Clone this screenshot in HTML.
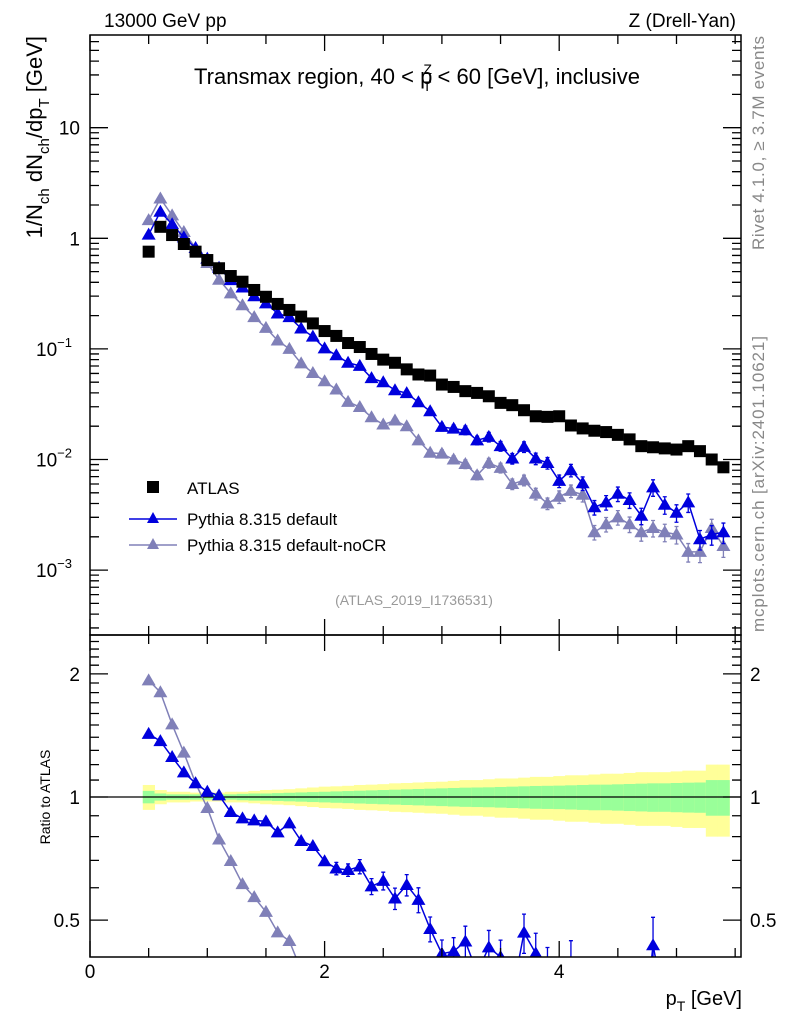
<!DOCTYPE html>
<html><head><meta charset="utf-8"><style>
html,body{margin:0;background:#fff;overflow:hidden;width:786px;height:1024px}
svg{display:block;font-family:"Liberation Sans",sans-serif}
</style></head><body>
<svg id="c" width="786" height="1024" viewBox="0 0 786 1024" xmlns="http://www.w3.org/2000/svg">
<text x="104" y="27" font-size="19">13000 GeV pp</text>
<text x="736" y="27" font-size="19" text-anchor="end">Z (Drell-Yan)</text>
<text x="417" y="84" font-size="22" text-anchor="middle">Transmax region, 40 &lt; p<tspan font-size="14" dy="-10" dx="-9">Z</tspan><tspan font-size="14" dy="17" dx="-9">T</tspan><tspan dy="-7"> &lt; 60 [GeV], inclusive</tspan></text>
<text transform="translate(42,36) rotate(-90)" font-size="22" text-anchor="end">1/N<tspan font-size="15" dy="7">ch</tspan><tspan dy="-7"> dN</tspan><tspan font-size="15" dy="7">ch</tspan><tspan dy="-7">/dp</tspan><tspan font-size="15" dy="7">T</tspan><tspan dy="-7"> [GeV]</tspan></text>
<text transform="translate(764,36) rotate(-90)" font-size="17" fill="#888" text-anchor="end" textLength="214">Rivet 4.1.0, ≥ 3.7M events</text>
<text transform="translate(764,632) rotate(-90)" font-size="17" fill="#888" textLength="296">mcplots.cern.ch [arXiv:2401.10621]</text>
<text x="414" y="605" font-size="14" fill="#999" text-anchor="middle">(ATLAS_2019_I1736531)</text>
<text transform="translate(50,797) rotate(-90)" font-size="14" text-anchor="middle">Ratio to ATLAS</text>
<text x="742" y="1005" font-size="20" text-anchor="end">p<tspan font-size="14" dy="6">T</tspan><tspan dy="-6"> [GeV]</tspan></text>
<g>
<rect x="147" y="481" width="12" height="12" fill="#000"/>
<text x="187" y="494" font-size="17">ATLAS</text>
<line x1="129" y1="519" x2="177" y2="519" stroke="#0000dd" stroke-width="1.5"/>
<path d="M153 512 L159 523 L147 523Z" fill="#0000dd"/>
<text x="187" y="525" font-size="17">Pythia 8.315 default</text>
<line x1="129" y1="545" x2="177" y2="545" stroke="#8080b8" stroke-width="1.5"/>
<path d="M153 538 L159 549 L147 549Z" fill="#8080b8"/>
<text x="187" y="551" font-size="17">Pythia 8.315 default-noCR</text>
</g>
<g id="g"></g>
</svg>
<script>
const xs=[0.5,0.6,0.7,0.8,0.9,1.0,1.1,1.2,1.3,1.4,1.5,1.6,1.7,1.8,1.9,2.0,2.1,2.2,2.3,2.4,2.5,2.6,2.7,2.8,2.9,3.0,3.1,3.2,3.3,3.4,3.5,3.6,3.7,3.8,3.9,4.0,4.1,4.2,4.3,4.4,4.5,4.6,4.7,4.8,4.9,5.0,5.1,5.2,5.3,5.4];
const atlas=[0.757,1.27,1.07,0.888,0.757,0.636,0.536,0.456,0.405,0.341,0.296,0.255,0.225,0.196,0.170,0.145,0.131,0.113,0.104,0.090,0.080,0.0749,0.0653,0.0587,0.0574,0.0476,0.0453,0.0415,0.0400,0.0373,0.0325,0.0310,0.0279,0.0246,0.0243,0.0246,0.0203,0.0191,0.0182,0.0177,0.0167,0.0152,0.0132,0.0129,0.0126,0.0123,0.0132,0.0119,0.0100,0.0085];
const pyDef=[1.08,1.74,1.34,1.02,0.818,0.655,0.541,0.419,0.359,0.299,0.258,0.209,0.194,0.153,0.129,0.101,0.0876,0.0749,0.0703,0.0544,0.0499,0.0423,0.0398,0.0329,0.0273,0.0197,0.019,0.0184,0.0149,0.016,0.0132,0.0102,0.013,0.0102,0.0093,0.0064,0.0080,0.0061,0.0037,0.0041,0.0049,0.0043,0.0031,0.0056,0.0039,0.0033,0.0041,0.0019,0.0021,0.0022];
const pyNoCR=[1.46,2.29,1.61,1.14,0.818,0.598,0.422,0.318,0.248,0.194,0.155,0.119,0.100,0.0739,0.0606,0.0510,0.0429,0.0332,0.0298,0.0241,0.0207,0.0225,0.0200,0.0149,0.0115,0.0113,0.0100,0.0091,0.0072,0.0093,0.0084,0.0060,0.0065,0.0049,0.0040,0.0046,0.0052,0.0048,0.0022,0.0026,0.0030,0.0026,0.0022,0.0024,0.0022,0.0021,0.00146,0.00146,0.0024,0.00165];
const mcRelErr=[0.01,0.01,0.01,0.01,0.01,0.01,0.01,0.01,0.01,0.01,0.015,0.02,0.02,0.025,0.025,0.03,0.035,0.035,0.04,0.045,0.05,0.06,0.06,0.07,0.07,0.08,0.08,0.09,0.09,0.1,0.1,0.11,0.11,0.12,0.12,0.13,0.13,0.14,0.15,0.15,0.15,0.16,0.17,0.17,0.18,0.18,0.19,0.2,0.2,0.21];
const statBand=[0.035,0.02,0.015,0.015,0.015,0.015,0.015,0.015,0.018,0.02,0.02,0.022,0.024,0.026,0.028,0.03,0.032,0.034,0.036,0.038,0.04,0.042,0.044,0.046,0.048,0.05,0.052,0.054,0.055,0.056,0.058,0.06,0.062,0.064,0.065,0.066,0.068,0.07,0.072,0.072,0.074,0.076,0.078,0.08,0.08,0.082,0.084,0.085,0.1,0.1];
const totBand=[0.07,0.04,0.03,0.03,0.025,0.025,0.025,0.03,0.03,0.035,0.04,0.042,0.045,0.05,0.055,0.06,0.062,0.065,0.07,0.072,0.075,0.08,0.082,0.085,0.088,0.09,0.095,0.1,0.1,0.105,0.11,0.11,0.115,0.12,0.12,0.125,0.13,0.13,0.135,0.14,0.14,0.145,0.15,0.15,0.15,0.155,0.16,0.16,0.2,0.2];
const xTicks=[0,2,4];
const yDecades=[-3,-2,-1,0,1];
const ratioTicks=["0.5","1","2"];

const L=90,R=741,T=35,MB=635,RB=957;
const X=v=>L+v*117.3;
const Y=v=>127.7+(1-Math.log10(v))*110.6;
const YR=v=>797-Math.log10(v)*409;
const NS='http://www.w3.org/2000/svg';
const g=document.getElementById('g');
function mk(t,a,p){const e=document.createElementNS(NS,t);for(const k in a)e.setAttribute(k,a[k]);(p||g).appendChild(e);return e;}

const defs=mk('defs',{});
const c1=mk('clipPath',{id:'cm'},defs);mk('rect',{x:L,y:T,width:R-L,height:MB-T},c1);
const c2=mk('clipPath',{id:'cr'},defs);mk('rect',{x:L,y:MB,width:R-L,height:RB-MB},c2);

const bandG=mk('g',{'clip-path':'url(#cr)'});
xs.forEach((x,i)=>{
  const a=X(x-0.05),b=X(x+0.05);
  const r1=mk('rect',{x:a,y:YR(1+totBand[i]),width:b-a+0.5,height:YR(1-totBand[i])-YR(1+totBand[i]),fill:'#ffff99'},bandG);
  
  
  const r2=mk('rect',{x:a,y:YR(1+statBand[i]),width:b-a+0.5,height:YR(1-statBand[i])-YR(1+statBand[i]),fill:'#99ff99'},bandG);
  
  
});
const ref=mk('line',{x1:L,x2:R,y1:YR(1),y2:YR(1),stroke:'#000','stroke-width':1.2});



function series(vals,color,name,yf,clip,ratio){
  const sg=mk('g',{'clip-path':clip});
  
  
  const v=vals.map((d,i)=>ratio?d/atlas[i]:d);
  mk('polyline',{points:v.map((d,i)=>X(xs[i])+','+yf(d)).join(' '),fill:'none',stroke:color,'stroke-width':1.5},sg);
  v.forEach((d,i)=>{
    const x=X(xs[i]),y=yf(d),e=mcRelErr[i];
    if(e>0.03){const y1=yf(d*(1+e)),y2=yf(d*(1-e));
      mk('path',{d:`M${x} ${y1}V${y2}M${x-2} ${y1}H${x+2}M${x-2} ${y2}H${x+2}`,stroke:color,'stroke-width':1.3,fill:'none'},sg);}
    const p=mk('path',{d:`M${x} ${y-7}L${x+7} ${y+5}L${x-7} ${y+5}Z`,fill:color},sg);
    
    
  });
}
series(pyNoCR,'#8080b8','pythia-nocr',Y,'url(#cm)',false);
series(pyDef,'#0000dd','pythia-default',Y,'url(#cm)',false);
series(pyNoCR,'#8080b8','ratio-nocr',YR,'url(#cr)',true);
series(pyDef,'#0000dd','ratio-default',YR,'url(#cr)',true);
atlas.forEach((d,i)=>{
  const r=mk('rect',{x:X(xs[i])-6,y:Y(d)-6,width:12,height:12,fill:'#000'});
  
  
});

const f1=mk('rect',{x:L,y:T,width:R-L,height:MB-T,fill:'none',stroke:'#000','stroke-width':1.5});

const f2=mk('rect',{x:L,y:MB,width:R-L,height:RB-MB,fill:'none',stroke:'#000','stroke-width':1.5});


let tk='';
for(let v=0;v<=5.5;v+=0.5){const x=X(v),big=Math.abs(v-Math.round(v/2)*2)<1e-6?1:0,len=big?16:9;
  tk+=`M${x} ${T}v${len}M${x} ${MB}v${-len}M${x} ${MB}v${len}M${x} ${RB}v${-len}`;}
for(let d=-4;d<=1;d++){for(let m=1;m<10;m++){const v=m*Math.pow(10,d),y=Y(v);if(y<T||y>MB)continue;const len=m==1?18:9;
  tk+=`M${L} ${y}h${len}M${R} ${y}h${-len}`;}}
[0.4,0.5,0.6,0.7,0.8,0.9,1,1.1,1.2,1.3,1.4,1.5,1.6,1.7,1.8,1.9,2,2.1,2.2,2.3,2.4].forEach(v=>{const y=YR(v);if(y<MB||y>RB)return;const len=(v==0.5||v==1||v==2)?18:9;
  tk+=`M${L} ${y}h${len}M${R} ${y}h${-len}`;});
const tp=mk('path',{d:tk,stroke:'#000','stroke-width':1.3,fill:'none'});


xTicks.forEach(v=>{const t=mk('text',{x:X(v),y:978,'font-size':19,'text-anchor':'middle'});t.textContent=v;
  });
yDecades.forEach(d=>{const y=Y(Math.pow(10,d));const t=mk('text',{x:d<0?72:80,y:y+7,'font-size':19,'text-anchor':'end'});
  if(d==0)t.textContent='1';else if(d==1)t.textContent='10';else{t.textContent='10';const s=mk('tspan',{dy:-9,'font-size':13},t);s.textContent='−'+(-d);}
  });
ratioTicks.forEach(s=>{const y=YR(parseFloat(s))+7;
  const t=mk('text',{x:80,y:y,'font-size':19,'text-anchor':'end'});t.textContent=s;
  
  const t2=mk('text',{x:750,y:y,'font-size':19});t2.textContent=s;
  });
</script>
</body></html>
